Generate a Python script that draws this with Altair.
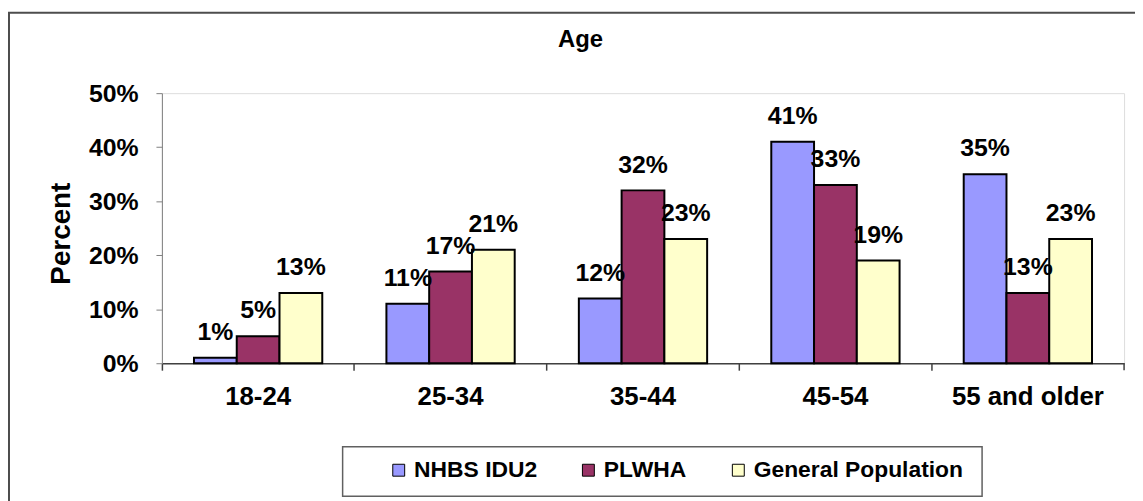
import altair as alt
import pandas as pd

# ---- data ----
ages = ["18-24", "25-34", "35-44", "45-54", "55 and older"]
groups = ["NHBS IDU2", "PLWHA", "General Population"]
nhbs_idu2 = [1, 11, 12, 41, 35]
plwha = [5, 17, 32, 33, 13]
general_pop = [13, 21, 23, 19, 23]
colors = ["#9999FF", "#993366", "#FFFFCC"]
y_ticks = [0, 10, 20, 30, 40, 50]

rows = []
for g, vals in zip(groups, [nhbs_idu2, plwha, general_pop]):
    for a, v in zip(ages, vals):
        rows.append({"Age": a, "Group": g, "Value": v})
df = pd.DataFrame(rows)

FONT = "Liberation Sans"
W, H = 969, 272

x_enc = alt.X(
    "Age:N", sort=ages,
    scale=alt.Scale(paddingInner=0, paddingOuter=0),
    axis=alt.Axis(
        title=None, bandPosition=0, labelAngle=0, tickSize=7, labelPadding=14,
        labelFont=FONT, labelFontSize=26, labelFontWeight="bold", labelColor="black",
        domainColor="#404040", tickColor="#404040", domainWidth=1.5, tickWidth=1.5,
    ),
)
xo_enc = alt.XOffset("Group:N", sort=groups, scale=alt.Scale(paddingInner=0, paddingOuter=0.75))
y_enc = alt.Y(
    "Value:Q",
    scale=alt.Scale(domain=[0, 50], nice=False),
    axis=alt.Axis(
        values=y_ticks, labelExpr="datum.value + '%'", grid=False,
        tickSize=6, labelPadding=18, domainColor="#808080", tickColor="#808080",
        labelFont=FONT, labelFontSize=25, labelFontWeight="bold", labelColor="black",
        title="Percent", titleFont=FONT, titleFontSize=28, titleFontWeight="bold",
        titleColor="black", titleAngle=270, titleX=-93, titleY=141,
        titleAlign="center", titleBaseline="alphabetic",
    ),
)
color_enc = alt.Color(
    "Group:N", sort=groups,
    scale=alt.Scale(domain=groups, range=colors),
    legend=alt.Legend(
        title=None, orient="none", legendX=227, legendY=368, direction="horizontal",
        padding=0, symbolType="square", symbolSize=144, symbolStrokeColor="black",
        symbolStrokeWidth=1, labelFont=FONT, labelFontSize=23, labelFontWeight="bold",
        labelColor="black", labelOffset=4, columnPadding=40, labelLimit=500,
    ),
)

one = pd.DataFrame({"k": [0]})

frame = alt.Chart(one).mark_rect(fillOpacity=0, stroke="#4d4d4d", strokeWidth=2).encode(
    x=alt.value(-154), x2=alt.value(990), y=alt.value(-81), y2=alt.value(420)
)
legend_box = alt.Chart(one).mark_rect(fill="white", stroke="#606060", strokeWidth=1.5).encode(
    x=alt.value(182), x2=alt.value(826), y=alt.value(356), y2=alt.value(406)
)
end_tick = alt.Chart(one).mark_rule(color="#404040", strokeWidth=1.5).encode(
    x=alt.value(W), y=alt.value(H), y2=alt.value(H + 7)
)

bars = alt.Chart(df).mark_bar(stroke="black", strokeWidth=2).encode(
    x=x_enc, xOffset=xo_enc, y=y_enc, color=color_enc
)
labels = alt.Chart(df).transform_calculate(label="datum.Value + '%'").mark_text(
    dy=-18, baseline="alphabetic", align="center", font=FONT, fontSize=25,
    fontWeight="bold", color="black"
).encode(x=alt.X("Age:N", sort=ages), xOffset=alt.XOffset("Group:N", sort=groups),
         y="Value:Q", text="label:N")

chart = alt.layer(frame, legend_box, bars, labels, end_tick).properties(
    width=W, height=H,
    padding={"left": 155, "top": 84, "right": 11, "bottom": 137},
    autosize=alt.AutoSizeParams(type="none"),
    title=alt.Title("Age", font=FONT, fontSize=24, fontWeight="bold", color="black",
                    anchor="middle", frame="group", offset=-60, baseline="alphabetic", dx=-63),
).configure_view(strokeOpacity=0).configure(background="white")

chart.save("out.html", embed_options={"renderer": "svg", "actions": False})
